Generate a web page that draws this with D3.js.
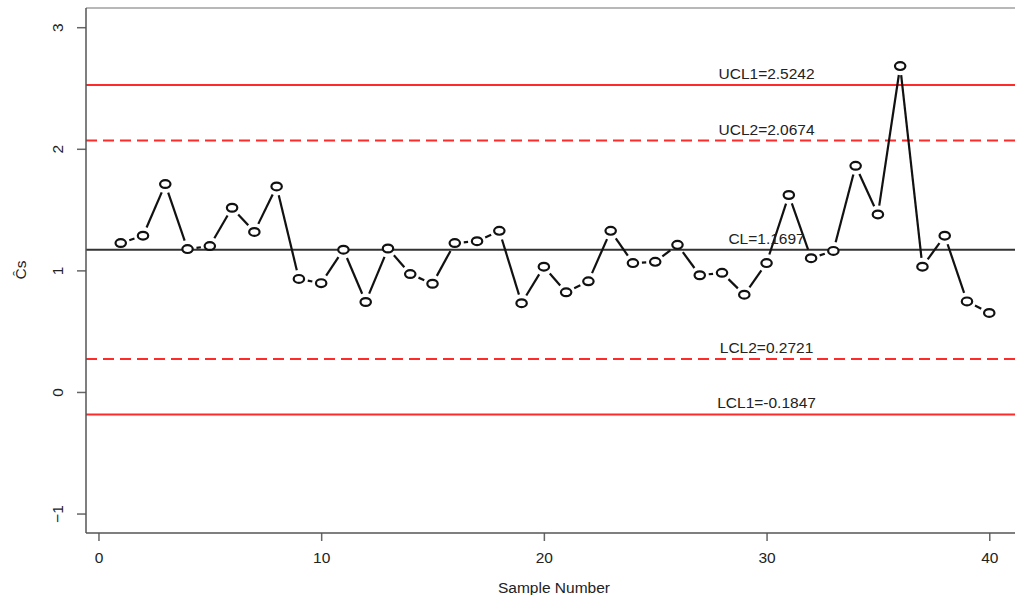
<!DOCTYPE html>
<html>
<head>
<meta charset="utf-8">
<script src="https://cdn.jsdelivr.net/npm/d3@7"></script>
<style>
  body { margin: 0; background: #fff; }
  svg { display: block; font-family: "Liberation Sans", Arial, sans-serif; }
</style>
</head>
<body>
<svg id="chart"></svg>
<script>
// sample number vs estimated Cs
var samples = d3.range(1, 41);
var csValues = [
  1.225, 1.285, 1.71, 1.175, 1.20, 1.515, 1.316, 1.69, 0.93, 0.895,
  1.17, 0.74, 1.18, 0.97, 0.89, 1.225, 1.24, 1.325, 0.73, 1.03,
  0.82, 0.91, 1.325, 1.06, 1.07, 1.21, 0.96, 0.98, 0.80, 1.06,
  1.62, 1.10, 1.16, 1.86, 1.46, 2.68, 1.03, 1.285, 0.745, 0.65
];

// control limits
var limitNames = ["UCL1", "UCL2", "CL", "LCL2", "LCL1"];
var limitValues = [2.5242, 2.0674, 1.1697, 0.2721, -0.1847];
var limitLabels = ["UCL1=2.5242", "UCL2=2.0674", "CL=1.1697", "LCL2=0.2721", "LCL1=-0.1847"];

var xTicks = [0, 10, 20, 30, 40];
var yTicks = [-1, 0, 1, 2, 3];

var width = 1015,
  height = 595;

var x = d3.scaleLinear().domain([-0.56, 41.56]).range([86, 1024]);
var y = d3.scaleLinear().domain([-1.16, 3.158]).range([533, 8]);

var svg = d3.select("#chart")
  .attr("width", width)
  .attr("height", height);

// frame
svg.append("line")
  .attr("x1", 86).attr("x2", width)
  .attr("y1", 8).attr("y2", 8)
  .attr("stroke", "#a0a0a0")
  .attr("stroke-width", 1.5);

// limit lines
var limitStyle = {
  UCL1: { color: "#ff2a2a", dash: null },
  UCL2: { color: "#ff2a2a", dash: "11,6" },
  CL: { color: "#333", dash: null },
  LCL2: { color: "#ff2a2a", dash: "11,6" },
  LCL1: { color: "#ff2a2a", dash: null }
};

limitValues.forEach(function (v, i) {
  var st = limitStyle[limitNames[i]];
  svg.append("line")
    .attr("x1", 86).attr("x2", width)
    .attr("y1", y(v)).attr("y2", y(v))
    .attr("stroke", st.color)
    .attr("stroke-width", 2)
    .attr("stroke-dasharray", st.dash);
});

// series: lines with a gap around every point (type "b")
var gap = 9;
for (var i = 0; i < samples.length - 1; i++) {
  var x0 = x(samples[i]), y0 = y(csValues[i]),
    x1 = x(samples[i + 1]), y1 = y(csValues[i + 1]);
  var dx = x1 - x0, dy = y1 - y0, len = Math.sqrt(dx * dx + dy * dy);
  if (len <= 2 * gap) continue;
  var ux = dx / len, uy = dy / len;
  svg.append("line")
    .attr("x1", x0 + ux * gap).attr("y1", y0 + uy * gap)
    .attr("x2", x1 - ux * gap).attr("y2", y1 - uy * gap)
    .attr("stroke", "#111")
    .attr("stroke-width", 2.2);
}

svg.append("g")
  .selectAll("ellipse")
  .data(samples)
  .join("ellipse")
  .attr("cx", function (d) { return x(d); })
  .attr("cy", function (d, i) { return y(csValues[i]); })
  .attr("rx", 5.2)
  .attr("ry", 3.9)
  .attr("fill", "#fff")
  .attr("stroke", "#111")
  .attr("stroke-width", 2.2);

// limit labels, just above each line
limitValues.forEach(function (v, i) {
  svg.append("text")
    .attr("x", x(30))
    .attr("y", y(v) - 6)
    .attr("text-anchor", "middle")
    .attr("font-size", 15.5)
    .attr("fill", "#222")
    .text(limitLabels[i]);
});

// axes
var xAxis = svg.append("g")
  .attr("transform", "translate(0,533)")
  .call(d3.axisBottom(x).tickValues(xTicks).tickSize(8).tickPadding(11).tickFormat(d3.format("d")));
xAxis.select(".domain").remove();
xAxis.selectAll(".tick line").attr("stroke", "#666").attr("stroke-width", 1.5);
xAxis.selectAll("text").attr("font-size", 15.5).attr("fill", "#222").attr("font-family", "Liberation Sans, Arial, sans-serif");

var yAxis = svg.append("g")
  .attr("transform", "translate(86,0)")
  .call(d3.axisLeft(y).tickValues(yTicks).tickSize(9).tickFormat(d3.format("d")));
yAxis.select(".domain").remove();
yAxis.selectAll(".tick line").attr("stroke", "#666").attr("stroke-width", 1.5);
yAxis.selectAll("text")
  .attr("x", 0)
  .attr("dy", 0)
  .attr("transform", "translate(-23,0) rotate(-90)")
  .attr("text-anchor", "middle")
  .attr("font-size", 15.5)
  .attr("fill", "#222")
  .attr("font-family", "Liberation Sans, Arial, sans-serif");

// spines
svg.append("line")
  .attr("x1", 86).attr("x2", 86)
  .attr("y1", 8).attr("y2", 533)
  .attr("stroke", "#555").attr("stroke-width", 1.5);
svg.append("line")
  .attr("x1", 86).attr("x2", width)
  .attr("y1", 533).attr("y2", 533)
  .attr("stroke", "#555").attr("stroke-width", 1.5);

// axis titles
svg.append("text")
  .attr("x", 554)
  .attr("y", 593)
  .attr("text-anchor", "middle")
  .attr("font-size", 15.5)
  .attr("fill", "#222")
  .text("Sample Number");

svg.append("text")
  .attr("transform", "translate(26,270) rotate(-90)")
  .attr("text-anchor", "middle")
  .attr("font-size", 15.5)
  .attr("fill", "#222")
  .text("Ĉs");
</script>
</body>
</html>
